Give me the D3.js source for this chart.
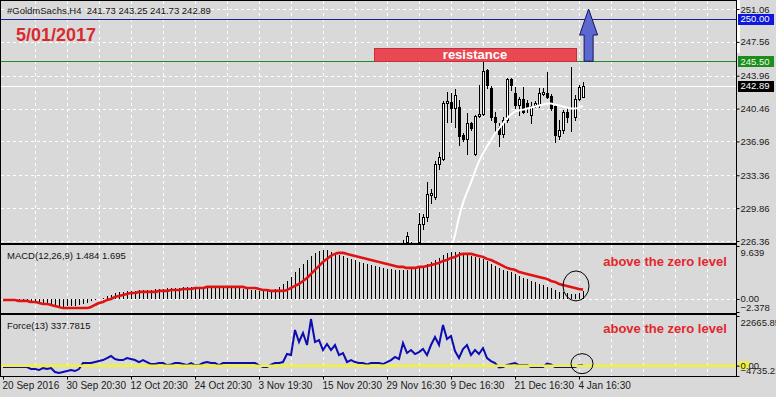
<!DOCTYPE html>

<head>
  <meta charset="utf-8">
  <script src="https://d3js.org/d3.v7.min.js"></script>
  <style>
    body { margin: 0; background: #d9d9d9; }
    svg { display: block; font-family: "Liberation Sans", Arial, sans-serif; }
  </style>
</head>

<body>
  <script>
    // header texts
    var symbolTitle = '#GoldmSachs,H4  241.73 243.25 241.73 242.89';
    var dateText = '5/01/2017';
    var macdTitle = 'MACD(12,26,9) 1.484 1.695';
    var forceTitle = 'Force(13) 337.7815';
    var noteText = 'above the zero level';

    // time axis labels, one every 16 bars
    var timeLabels = ['20 Sep 2016', '30 Sep 20:30', '12 Oct 20:30', '24 Oct 20:30', '3 Nov 19:30',
      '15 Nov 20:30', '29 Nov 16:30', '9 Dec 16:30', '21 Dec 16:30', '4 Jan 16:30'];
    var timeLabelBars = [0, 16, 32, 48, 64, 80, 96, 112, 128, 144];

    // price axis ticks + levels
    var priceTicks = [251.06, 247.56, 243.96, 240.46, 236.96, 233.36, 229.86, 226.36];
    var blueLevel = 250.00, greenLevel = 245.50, lastPrice = 242.89;
    var macdTicks = [9.639, 0, -2.378];
    var forceTicks = [22665.85, 0, -4735.21];

    // candles visible in the window start at bar 100
    var firstCandle = 100;
    var openP = [226.35, 226.28, 226.25, 226.0, 226.25, 228.16, 228.9, 231.23, 231.02, 234.52,
      235.05, 241.1, 241.2, 240.57, 240.67, 237.6, 237.17, 238.87, 235.58, 239.72,
      239.93, 244.6, 242.69, 239.51, 238.45, 237.7, 239.19, 243.64, 242.16, 240.88,
      241.52, 241.1, 239.82, 240.88, 240.88, 242.05, 242.16, 241.84, 240.78, 237.49,
      238.23, 240.14, 239.51, 239.51, 241.52, 241.73];
    var highP = [226.5, 227.27, 226.3, 226.1, 229.33, 229.22, 232.61, 231.87, 234.84, 235.79,
      241.31, 242.26, 242.16, 242.58, 241.41, 237.91, 240.04, 238.98, 239.82, 243.0,
      245.44, 244.7, 242.9, 240.14, 238.87, 239.61, 243.75, 243.75, 242.79, 241.73,
      242.79, 241.41, 241.2, 241.31, 242.69, 242.69, 244.38, 242.05, 240.88, 239.29,
      240.35, 240.57, 244.91, 241.94, 243.0, 243.25];
    var lowP = [226.1, 226.15, 226.1, 225.6, 226.0, 227.63, 228.48, 230.39, 230.81, 233.99,
      234.95, 238.98, 238.98, 238.55, 236.54, 236.96, 235.58, 238.13, 235.48, 239.61,
      239.82, 242.69, 239.29, 237.91, 236.43, 237.38, 239.08, 242.47, 240.57, 239.82,
      240.04, 240.14, 238.87, 240.67, 240.67, 241.94, 241.63, 240.35, 236.85, 237.17,
      237.91, 238.98, 238.02, 239.29, 241.41, 241.73];
    var closeP = [226.4, 226.85, 226.27, 225.9, 228.16, 228.9, 231.34, 231.45, 234.52, 235.26,
      241.1, 241.31, 240.57, 241.94, 237.49, 237.17, 238.87, 238.34, 239.72, 239.93,
      244.49, 243.0, 239.51, 238.98, 237.7, 239.29, 243.64, 243.0, 240.88, 241.52,
      240.14, 240.67, 240.78, 241.1, 242.16, 242.26, 241.73, 240.57, 237.6, 238.23,
      240.14, 239.61, 239.61, 241.52, 242.79, 242.89];

    // white moving average, starts at bar 112
    var maStart = 112;
    var maValues = [225.5, 226.99, 228.9, 230.39, 231.55, 232.61, 233.78, 234.84, 235.69, 236.43,
      237.07, 237.81, 238.34, 238.87, 239.4, 239.82, 240.14, 240.25, 240.35, 240.46,
      240.57, 240.67, 240.78, 240.88, 240.99, 240.99, 240.88, 240.78, 240.67, 240.57,
      240.46, 240.46, 240.57, 240.78];

    // macd histogram (main) and signal, one value per bar 0..145
    var macdMain = [-0.18, -0.18, -0.18, -0.18, -0.36, -0.36, -0.55, -0.55, -0.73, -0.73,
      -0.91, -1.09, -1.28, -1.46, -1.64, -1.46, -1.28, -1.28, -1.28, -1.09,
      -0.91, -0.73, -0.36, -0.18, 0.0, 0.18, 0.55, 0.73, 1.09, 1.28,
      1.28, 1.46, 1.46, 1.46, 1.64, 1.64, 1.64, 1.64, 1.82, 1.82,
      1.82, 2.0, 2.0, 2.0, 2.0, 2.19, 2.19, 2.19, 2.19, 2.19,
      2.19, 2.19, 2.19, 2.19, 2.19, 2.19, 2.19, 2.19, 2.0, 2.0,
      1.82, 1.82, 1.64, 1.64, 1.46, 1.46, 1.46, 1.64, 1.82, 2.19,
      2.73, 3.28, 4.01, 4.92, 5.65, 6.38, 7.10, 7.83, 8.38, 8.74,
      8.93, 8.93, 8.56, 8.38, 8.01, 7.83, 7.47, 7.29, 7.10, 6.74,
      6.56, 6.38, 6.19, 6.01, 5.83, 5.65, 5.46, 5.46, 5.28, 5.28,
      5.28, 5.28, 5.46, 5.65, 5.83, 6.01, 6.38, 6.74, 7.10, 7.47,
      8.01, 8.38, 8.56, 8.56, 8.56, 8.38, 8.20, 7.83, 7.65, 7.47,
      7.29, 6.92, 6.38, 6.01, 5.65, 5.28, 5.10, 4.92, 4.55, 4.19,
      3.83, 3.64, 3.28, 3.10, 2.73, 2.55, 2.19, 2.00, 1.64, 1.28,
      1.28, 1.09, 0.91, 0.91, 1.09, 1.484];
    var macdSignal = [-0.18, -0.18, -0.18, -0.18, -0.36, -0.36, -0.36, -0.55, -0.55, -0.73,
      -0.91, -0.91, -1.09, -1.28, -1.46, -1.64, -1.64, -1.64, -1.64, -1.64,
      -1.64, -1.64, -1.46, -1.09, -0.73, -0.55, -0.18, 0.0, 0.36, 0.55,
      0.73, 0.91, 1.09, 1.09, 1.28, 1.28, 1.28, 1.28, 1.28, 1.46,
      1.46, 1.46, 1.64, 1.64, 1.64, 1.82, 1.82, 1.82, 2.0, 2.0,
      2.0, 2.19, 2.19, 2.19, 2.19, 2.19, 2.19, 2.19, 2.19, 2.19,
      2.19, 2.0, 2.0, 2.0, 1.82, 1.64, 1.64, 1.46, 1.46, 1.46,
      1.46, 1.64, 2.0, 2.37, 2.73, 3.28, 3.83, 4.55, 5.28, 6.01,
      6.74, 7.29, 7.83, 8.20, 8.38, 8.38, 8.20, 8.01, 7.83, 7.65,
      7.47, 7.29, 7.10, 6.92, 6.74, 6.56, 6.38, 6.19, 6.01, 5.83,
      5.83, 5.65, 5.65, 5.65, 5.83, 5.83, 6.01, 6.19, 6.38, 6.56,
      6.92, 7.10, 7.47, 7.65, 8.01, 8.20, 8.20, 8.20, 8.01, 7.83,
      7.65, 7.29, 7.10, 6.74, 6.38, 6.01, 5.65, 5.46, 5.28, 4.92,
      4.74, 4.55, 4.37, 4.19, 4.01, 3.83, 3.64, 3.28, 3.10, 2.73,
      2.55, 2.37, 2.19, 2.00, 1.82, 1.695];

    // force index per bar 0..145
    var forceValues = [-639, -639, -639, -639, -639, -639, -639, -1553, -1553, -2009,
      -1096, -1553, -1096, -2923, -3380, -2923, -2466, -2009, -2466, -1553,
      1187, 1187, 1187, 1644, 2101, 2558, 3471, 4384, 3014, 2558,
      2558, 3471, 3014, 2558, 1644, 2558, 1644, 731, 731, 1187,
      1187, 274, 502, 1187, 1187, 731, 274, 1187, 274, 274,
      1187, 1644, 1187, 1187, 274, 1187, 1187, 1187, 1187, 1187,
      1187, 1187, 1187, 1187, 274, -639, -639, 502, 1187, 1187,
      1644, 5298, 4841, 16259, 10778, 14888, 9410, 21282, 10778, 11692,
      7124, 9867, 7124, 9410, 4841, 5754, 1644, 2558, 1644, 1187,
      1187, 502, 1187, 1187, 1187, 731, 1644, 2558, 3928, 3014,
      10321, 5754, 7124, 5298, 6211, 7581, 4841, 9410, 13062, 9410,
      18542, 12149, 13519, 6668, 3471, 7581, 9410, 4841, 7124, 5298,
      8038, 3471, 2101, 1187, -868, -639, 274, 731, 1187, 274,
      274, 274, -639, -639, -639, -639, 959, 502, -639, -639,
      -639, -639, -639, -639, 274, 337.78];

    // drawing notes in chart units (bars / prices / indicator values)
    var resistanceBox = { fromBar: 92.75, toBar: 143.25, low: 245.5, high: 246.88 };
    var arrowMark = { bar: 146.4, base: 245.5, neck: 248.29, tip: 251.06 };
    var macdCircle = { bar: 143.25, value: 2.37 };
    var forceCircle = { bar: 144.75, value: 900 };

    var W = 776, H = 397, right = 736;
    var panels = {
      main: { top: 1, bottom: 243 },
      macd: { top: 245, bottom: 313 },
      force: { top: 315, bottom: 376 }
    };

    function px(v) { return Math.round(v) + 0.5; }

    // scales
    var x = d3.scaleLinear().domain([0, 145]).range([3, 583]);
    var yPrice = d3.scaleLinear().domain([226.36, 251.06]).range([241, 9]);
    var yMacd = d3.scaleLinear().domain([-2.378, 9.639]).range([312, 246]);
    var yForce = d3.scaleLinear().domain([-4735.21, 22665.85]).range([376, 316]);

    var svg = d3.select('body').append('svg')
      .attr('width', W)
      .attr('height', H);

    svg.append('rect').attr('width', W).attr('height', H).attr('fill', '#d9d9d9');
    svg.append('rect').attr('x', 737).attr('y', 0).attr('width', 3).attr('height', 53).attr('fill', '#ffffff');

    // clip paths for each panel
    var defs = svg.append('defs');
    Object.keys(panels).forEach(function(k) {
      defs.append('clipPath').attr('id', 'clip-' + k)
        .append('rect')
        .attr('x', 1).attr('y', panels[k].top)
        .attr('width', right - 1).attr('height', panels[k].bottom - panels[k].top);
    });

    // vertical dashed grid every 8 bars
    var gridBars = d3.range(8, 177, 8);
    Object.keys(panels).forEach(function(k) {
      svg.append('g').selectAll('line').data(gridBars).enter().append('line')
        .attr('x1', function(d) { return px(x(d)); })
        .attr('x2', function(d) { return px(x(d)); })
        .attr('y1', panels[k].top)
        .attr('y2', panels[k].bottom)
        .attr('stroke', '#ffffff')
        .attr('stroke-dasharray', '3,3');
    });

    // horizontal dashed grid in the price panel
    svg.append('g').selectAll('line').data(priceTicks).enter().append('line')
      .attr('x1', 1).attr('x2', right)
      .attr('y1', function(d) { return px(yPrice(d)); })
      .attr('y2', function(d) { return px(yPrice(d)); })
      .attr('stroke', '#ffffff')
      .attr('stroke-dasharray', '3,3');

    // zero dashed line in macd panel
    svg.append('line')
      .attr('x1', 1).attr('x2', right)
      .attr('y1', px(yMacd(0))).attr('y2', px(yMacd(0)))
      .attr('stroke', '#ffffff')
      .attr('stroke-dasharray', '3,3');

    // price levels
    svg.append('line').attr('x1', 1).attr('x2', right)
      .attr('y1', px(yPrice(lastPrice))).attr('y2', px(yPrice(lastPrice)))
      .attr('stroke', '#ffffff');
    svg.append('line').attr('x1', 1).attr('x2', right)
      .attr('y1', px(yPrice(blueLevel))).attr('y2', px(yPrice(blueLevel)))
      .attr('stroke', '#1d1d9a');
    svg.append('line').attr('x1', 1).attr('x2', right)
      .attr('y1', px(yPrice(greenLevel))).attr('y2', px(yPrice(greenLevel)))
      .attr('stroke', '#238a23');

    // candles
    var candles = openP.map(function(o, k) {
      return { bar: firstCandle + k, open: o, high: highP[k], low: lowP[k], close: closeP[k] };
    });

    var mainG = svg.append('g').attr('clip-path', 'url(#clip-main)');

    mainG.append('g').selectAll('line').data(candles).enter().append('line')
      .attr('x1', function(d) { return Math.round(x(d.bar)) + 0.5; })
      .attr('x2', function(d) { return Math.round(x(d.bar)) + 0.5; })
      .attr('y1', function(d) { return Math.round(yPrice(d.high)); })
      .attr('y2', function(d) { return Math.round(yPrice(d.low)) + 1; })
      .attr('stroke', '#000')
      .attr('shape-rendering', 'crispEdges');

    mainG.append('g').selectAll('rect').data(candles).enter().append('rect')
      .attr('x', function(d) { return Math.round(x(d.bar)) - 0.5; })
      .attr('y', function(d) { return Math.round(yPrice(Math.max(d.open, d.close))) + 0.5; })
      .attr('width', 2)
      .attr('height', function(d) {
        return Math.max(0, Math.round(yPrice(Math.min(d.open, d.close))) - Math.round(yPrice(Math.max(d.open, d.close))));
      })
      .attr('fill', function(d) { return d.close >= d.open ? '#ffffff' : '#000000'; })
      .attr('stroke', '#000')
      .attr('stroke-width', 1);

    // moving average
    var maData = maValues.map(function(v, k) { return { bar: maStart + k, v: v }; });
    mainG.append('path')
      .datum(maData)
      .attr('fill', 'none')
      .attr('stroke', '#ffffff')
      .attr('stroke-width', 2)
      .attr('d', d3.line().curve(d3.curveMonotoneX)
        .x(function(d) { return x(d.bar); })
        .y(function(d) { return yPrice(d.v); }));

    // resistance box
    var rx0 = x(resistanceBox.fromBar), rx1 = x(resistanceBox.toBar);
    var ry0 = yPrice(resistanceBox.high), ry1 = yPrice(resistanceBox.low);
    svg.append('rect')
      .attr('x', Math.round(rx0) + 0.5).attr('y', Math.round(ry0) + 0.5)
      .attr('width', Math.round(rx1 - rx0)).attr('height', Math.round(ry1 - ry0))
      .attr('fill', '#e84953')
      .attr('stroke', '#c7303a');
    svg.append('text')
      .attr('x', (rx0 + rx1) / 2)
      .attr('y', ry1 - 2.5)
      .attr('text-anchor', 'middle')
      .attr('font-size', 13)
      .attr('font-weight', 'bold')
      .attr('fill', '#ffffff')
      .text('resistance');

    // blue arrow up
    var ax = x(arrowMark.bar), ab = yPrice(arrowMark.base), an = yPrice(arrowMark.neck), at = yPrice(arrowMark.tip);
    var arrowPts = [[ax - 4.5, ab], [ax - 4.5, an], [ax - 9, an], [ax, at], [ax + 9, an], [ax + 4.5, an], [ax + 4.5, ab]];
    svg.append('path')
      .attr('d', 'M' + arrowPts.map(function(p) { return p.join(','); }).join('L') + 'Z')
      .attr('fill', '#5b68cf')
      .attr('stroke', '#15155e')
      .attr('stroke-width', 1);

    // macd histogram and signal
    var macdG = svg.append('g').attr('clip-path', 'url(#clip-macd)');
    macdG.append('g').selectAll('line').data(macdMain).enter().append('line')
      .attr('x1', function(d, i) { return Math.round(x(i)) + 0.5; })
      .attr('x2', function(d, i) { return Math.round(x(i)) + 0.5; })
      .attr('y1', Math.round(yMacd(0)))
      .attr('y2', function(d) { return Math.round(yMacd(d)); })
      .attr('stroke', '#000')
      .attr('shape-rendering', 'crispEdges');
    macdG.append('path')
      .datum(macdSignal)
      .attr('fill', 'none')
      .attr('stroke', '#e01212')
      .attr('stroke-width', 2.6)
      .attr('d', d3.line().curve(d3.curveMonotoneX)
        .x(function(d, i) { return x(i); })
        .y(function(d) { return yMacd(d); }));

    // force line with yellow zero level on top
    var forceG = svg.append('g').attr('clip-path', 'url(#clip-force)');
    forceG.append('path')
      .datum(forceValues)
      .attr('fill', 'none')
      .attr('stroke', '#0c0cb0')
      .attr('stroke-width', 2)
      .attr('d', d3.line()
        .x(function(d, i) { return x(i); })
        .y(function(d) { return yForce(d); }));
    forceG.append('line')
      .attr('x1', 1).attr('x2', right)
      .attr('y1', yForce(0)).attr('y2', yForce(0))
      .attr('stroke', '#f2f23c')
      .attr('stroke-width', 2.5);

    // circles
    svg.append('ellipse')
      .attr('cx', x(macdCircle.bar)).attr('cy', yMacd(macdCircle.value))
      .attr('rx', 13).attr('ry', 15)
      .attr('fill', 'none').attr('stroke', '#000');
    svg.append('ellipse')
      .attr('cx', x(forceCircle.bar)).attr('cy', yForce(forceCircle.value))
      .attr('rx', 11).attr('ry', 10)
      .attr('fill', 'none').attr('stroke', '#000');

    // panel borders
    Object.keys(panels).forEach(function(k) {
      svg.append('rect')
        .attr('x', 0.5).attr('y', panels[k].top - 0.5)
        .attr('width', right).attr('height', panels[k].bottom - panels[k].top + 1)
        .attr('fill', 'none')
        .attr('stroke', '#000');
    });

    // right axes
    function styleAxis(g) {
      g.select('.domain').remove();
      g.selectAll('.tick line').attr('stroke', '#000');
      g.selectAll('.tick text').attr('fill', '#1a1a1a').attr('font-size', 9.5)
        .attr('font-family', '"Liberation Sans", Arial, sans-serif');
    }

    svg.append('g')
      .attr('transform', 'translate(' + (right + 0.5) + ',0)')
      .call(d3.axisRight(yPrice).tickValues(priceTicks).tickSize(3).tickPadding(1).tickFormat(d3.format('.2f')))
      .call(styleAxis);

    function clampLabels(g, scale, p) {
      g.selectAll('.tick text').attr('y', function(d) {
        var yy = scale(d);
        var c = Math.max(p.top + 7, Math.min(p.bottom - 6, yy));
        return c - yy;
      });
    }

    svg.append('g')
      .attr('transform', 'translate(' + (right + 0.5) + ',0)')
      .call(d3.axisRight(yMacd).tickValues(macdTicks).tickSize(3).tickPadding(1)
        .tickFormat(function(d) { return d === 0 ? '0.00' : d3.format('.3f')(d); }))
      .call(styleAxis)
      .call(clampLabels, yMacd, panels.macd);

    // yellow box behind force zero label
    svg.append('rect')
      .attr('x', 739).attr('y', yForce(0) - 4.5)
      .attr('width', 10).attr('height', 8)
      .attr('fill', '#f2f23c');

    svg.append('g')
      .attr('transform', 'translate(' + (right + 0.5) + ',0)')
      .call(d3.axisRight(yForce).tickValues(forceTicks).tickSize(3).tickPadding(1)
        .tickFormat(d3.format('.2f')))
      .call(styleAxis)
      .call(clampLabels, yForce, panels.force);

    // price level tags on the axis
    var tags = [
      { v: blueLevel, bg: '#0d18dc', fg: '#ffffff' },
      { v: greenLevel, bg: '#1f8c1f', fg: '#e6ffe6' },
      { v: lastPrice, bg: '#000000', fg: '#ffffff' }
    ];
    tags.forEach(function(t) {
      var yy = yPrice(t.v);
      svg.append('rect')
        .attr('x', 738).attr('y', Math.round(yy) - 5)
        .attr('width', 36).attr('height', 11)
        .attr('fill', t.bg);
      svg.append('text')
        .attr('x', 740.5).attr('y', yy + 3.5)
        .attr('font-size', 9.5)
        .attr('fill', t.fg)
        .text(d3.format('.2f')(t.v));
    });

    // time axis
    svg.append('g')
      .attr('transform', 'translate(0,' + (panels.force.bottom + 0.5) + ')')
      .call(d3.axisBottom(x).tickValues(timeLabelBars).tickSize(3).tickPadding(2)
        .tickFormat(function(d, i) { return timeLabels[i]; }))
      .call(function(g) {
        g.select('.domain').remove();
        g.selectAll('.tick line').attr('stroke', '#000');
        g.selectAll('.tick text')
          .attr('text-anchor', 'start')
          .attr('x', -1)
          .attr('fill', '#1a1a1a')
          .attr('font-size', 10)
          .attr('font-family', '"Liberation Sans", Arial, sans-serif');
      });

    // titles
    svg.append('text').attr('x', 7).attr('y', 13.5).attr('font-size', 9.5).attr('fill', '#111')
      .attr('xml:space', 'preserve').style('white-space', 'pre')
      .text(symbolTitle);
    svg.append('text').attr('x', 16).attr('y', 41).attr('font-size', 18).attr('font-weight', 'bold')
      .attr('fill', '#d92b2f').text(dateText);
    svg.append('text').attr('x', 7).attr('y', 259).attr('font-size', 9.5).attr('fill', '#111').text(macdTitle);
    svg.append('text').attr('x', 7).attr('y', 328.5).attr('font-size', 9.5).attr('fill', '#111').text(forceTitle);

    // notes
    svg.append('text').attr('x', 665).attr('y', 266).attr('text-anchor', 'middle')
      .attr('font-size', 13).attr('font-weight', 'bold').attr('fill', '#e3262e').text(noteText);
    svg.append('text').attr('x', 665).attr('y', 332.5).attr('text-anchor', 'middle')
      .attr('font-size', 13).attr('font-weight', 'bold').attr('fill', '#e3262e').text(noteText);
  </script>
</body>
